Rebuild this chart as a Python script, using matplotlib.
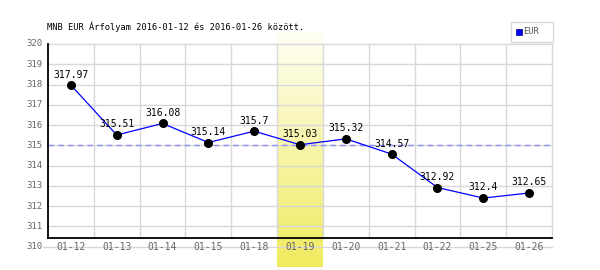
import numpy as np
import matplotlib
matplotlib.use("Agg")
import matplotlib.pyplot as plt

dates = ["01-12", "01-13", "01-14", "01-15", "01-18", "01-19", "01-20",
         "01-21", "01-22", "01-25", "01-26"]
values = [317.97, 315.51, 316.08, 315.14, 315.7, 315.03, 315.32,
          314.57, 312.92, 312.4, 312.65]
y_ticks = [310, 311, 312, 313, 314, 315, 316, 317, 318, 319, 320]
ref_value = 315.03
highlight = "01-19"
title = "MNB EUR Árfolyam 2016-01-12 és 2016-01-26 között."
series_name = "EUR"

W, H = 600, 270
fig = plt.figure(figsize=(W / 100, H / 100), dpi=100)
L, R, T, B = 48, 552, 44, 246.7
ax = fig.add_axes([L / W, 1 - B / H, (R - L) / W, (B - T) / H])
for s in ax.spines.values():
    s.set_visible(False)
ax.set_xticks([])
ax.set_yticks([])

mono = "DejaVu Sans Mono"
grid_c = "#d8d8d8"
ppu = (B - T) / 10.0
cat_w = (R - L) / len(dates)
axis_y = 310 + (B - 238.3) / ppu

# highlight band with gradient
hi = dates.index(highlight)
top_v = 320 + (T - 33) / ppu
bot_v = 310 - (267 - B) / ppu
grad = np.linspace(0, 1, 256).reshape(-1, 1)
c_top = np.array([1.0, 1.0, 0.96])
c_bot = np.array([0.94, 0.92, 0.37])
img = c_top[None, None, :] * (1 - grad[..., None]) + c_bot[None, None, :] * grad[..., None]
ax.imshow(img, extent=(hi - 0.5, hi + 0.5, bot_v, top_v), aspect="auto",
          origin="upper", clip_on=False, zorder=0.5)
ax.set_xlim(-0.5, len(dates) - 0.5)
ax.set_ylim(310, 320)

# horizontal grid
for yv in y_ticks:
    x0 = -0.5 - 5 / cat_w if yv == 310 else -0.5
    ax.plot([x0, len(dates) - 0.5], [yv, yv], color=grid_c, lw=1,
            clip_on=False, zorder=1)
    ax.text(-0.5 - 6 / cat_w, yv, str(yv), ha="right", va="center",
            fontsize=6.5, family=mono, color="#666666")

# vertical grid at boundaries
for i in range(len(dates)):
    ax.plot([i + 0.5, i + 0.5], [axis_y, 320], color=grid_c, lw=1,
            clip_on=False, zorder=1)

# axes lines
ax.plot([-0.5, len(dates) - 0.5], [axis_y, axis_y], color="black", lw=1.3,
        clip_on=False, zorder=3)
ax.plot([-0.5, -0.5], [axis_y, 320], color="black", lw=1.3, clip_on=False,
        zorder=3)

# x labels
x = np.arange(len(dates))
for i, d in enumerate(dates):
    ax.text(i, 310, d, ha="center", va="center", fontsize=7, family=mono,
            color="#666666", zorder=2)

# reference dashed line
ax.plot([-0.5, len(dates) - 0.5], [ref_value, ref_value], color="#8c8cff",
        lw=1, ls=(0, (4, 3)), zorder=2)

# data line
ax.plot(x, values, color="blue", lw=0.9, zorder=4)
ax.plot(x, values, "o", color="black", ms=5.5, zorder=5)
for xi, v in zip(x, values):
    ax.annotate(f"{v:g}", (xi, v), xytext=(0, 4), textcoords="offset points",
                ha="center", va="bottom", fontsize=7, family=mono,
                color="black", zorder=6)

# title
fig.text(47 / W, 1 - 27 / H, title, ha="left", va="center", fontsize=6.2,
         family=mono, color="black")

# legend
lx0, lx1, ly0, ly1 = 511, 553, 22, 42
fig.patches.append(plt.Rectangle((lx0 / W, 1 - ly1 / H), (lx1 - lx0) / W,
                                 (ly1 - ly0) / H, transform=fig.transFigure,
                                 facecolor="white", edgecolor=grid_c, lw=1))
fig.patches.append(plt.Rectangle((516 / W, 1 - 34.5 / H), 5.5 / W, 5.5 / H,
                                 transform=fig.transFigure, facecolor="blue",
                                 edgecolor="#000066", lw=0.5))
fig.text(523 / W, 1 - 32 / H, series_name, ha="left", va="center",
         fontsize=6.2, family=mono, color="#555555")

fig.savefig("out.png", dpi=100)
